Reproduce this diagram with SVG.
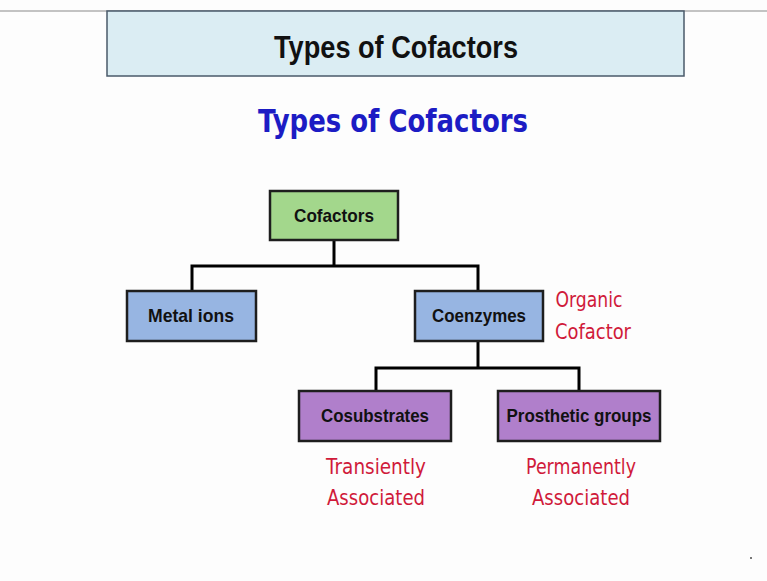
<svg xmlns="http://www.w3.org/2000/svg" width="767" height="581" viewBox="0 0 767 581">
<style>
.node rect{stroke:#1e1e1e;stroke-width:2.5}
.lbl{font-family:"Liberation Sans Narrow","Liberation Sans",Arial,sans-serif;font-weight:bold;font-size:19px;fill:#111;text-anchor:middle}
.note{font-family:"DejaVu Sans","Noto Sans",sans-serif;font-size:21px;fill:#d01a3a;text-anchor:middle}
.conn{fill:none;stroke:#000;stroke-width:3}
</style>
<rect x="0" y="0" width="767" height="581" fill="#fdfdfd"/>
<line x1="0" y1="11" x2="767" y2="11" stroke="#8a8a8a" stroke-width="1.2"/>
<g id="title">
<rect x="107" y="11" width="577" height="65" fill="#dbedf3" stroke="#4a5a6a" stroke-width="1.5"/>
<text x="396" y="58" font-family="'Liberation Sans Narrow','Liberation Sans',sans-serif" font-weight="bold" font-size="31" fill="#111" text-anchor="middle" textLength="244" lengthAdjust="spacingAndGlyphs">Types of Cofactors</text>
</g>
<g id="subtitle">
<text x="393" y="132" font-family="'DejaVu Sans','Noto Sans',sans-serif" font-weight="bold" font-size="32" fill="#1c1cc4" text-anchor="middle" textLength="270" lengthAdjust="spacingAndGlyphs">Types of Cofactors</text>
</g>
<g id="connectors">
<polyline class="conn" points="334,240 334,266"/>
<polyline class="conn" points="192,291 192,266 478,266 478,291"/>
<polyline class="conn" points="478,341 478,368"/>
<polyline class="conn" points="376,391 376,368 579,368 579,391"/>
</g>
<g id="cofactors" class="node">
<rect x="270" y="191" width="128" height="49" fill="#a3d78c"/>
<text class="lbl" x="334" y="222" textLength="80" lengthAdjust="spacingAndGlyphs">Cofactors</text>
</g>
<g id="metal-ions" class="node">
<rect x="127" y="291" width="129" height="50" fill="#97b5e2"/>
<text class="lbl" x="191" y="322" textLength="86" lengthAdjust="spacingAndGlyphs">Metal ions</text>
</g>
<g id="coenzymes" class="node">
<rect x="415" y="291" width="128" height="50" fill="#97b5e2"/>
<text class="lbl" x="479" y="322" textLength="94" lengthAdjust="spacingAndGlyphs">Coenzymes</text>
</g>
<g id="organic-note">
<text class="note" x="589" y="307" textLength="67" lengthAdjust="spacingAndGlyphs">Organic</text>
<text class="note" x="593" y="339" textLength="76" lengthAdjust="spacingAndGlyphs">Cofactor</text>
</g>
<g id="cosubstrates" class="node">
<rect x="299" y="391" width="152" height="50" fill="#b07fcb"/>
<text class="lbl" x="375" y="422" textLength="108" lengthAdjust="spacingAndGlyphs">Cosubstrates</text>
</g>
<g id="prosthetic-groups" class="node">
<rect x="498" y="391" width="162" height="50" fill="#b07fcb"/>
<text class="lbl" x="579" y="422" textLength="145" lengthAdjust="spacingAndGlyphs">Prosthetic groups</text>
</g>
<g id="transient-note">
<text class="note" x="376" y="474" textLength="100" lengthAdjust="spacingAndGlyphs">Transiently</text>
<text class="note" x="376" y="505" textLength="98" lengthAdjust="spacingAndGlyphs">Associated</text>
</g>
<g id="permanent-note">
<text class="note" x="581" y="474" textLength="110" lengthAdjust="spacingAndGlyphs">Permanently</text>
<text class="note" x="581" y="505" textLength="98" lengthAdjust="spacingAndGlyphs">Associated</text>
</g>
<rect x="750" y="557" width="2" height="2" fill="#777"/>
</svg>
